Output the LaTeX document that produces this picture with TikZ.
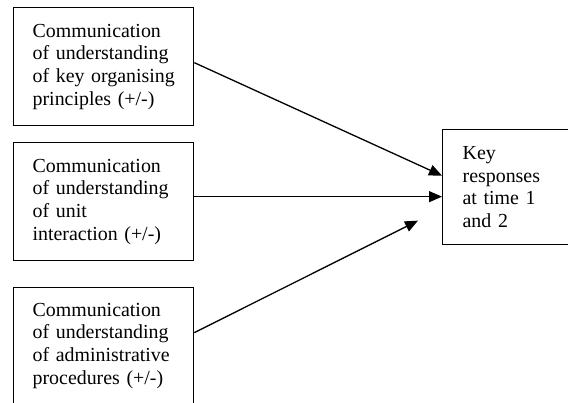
\documentclass[tikz,border=0pt]{standalone}
\usepackage{fontspec}
\setmainfont{Liberation Serif}
\usetikzlibrary{arrows.meta}
\begin{document}
\begin{tikzpicture}[x=1pt,y=-1pt,
  box/.style={draw, line width=1.3pt, inner xsep=19pt, inner ysep=0pt,
    align=left, anchor=north west,
    font=\fontsize{19.9}{22.7}\selectfont},
  arr/.style={line width=1.3pt, -{Triangle[length=13pt,width=11pt]}}]
\useasboundingbox (0,0) rectangle (568,402);
\clip (0,0) rectangle (568,402);
% input boxes on the left
\node[box, minimum width=180pt, minimum height=118pt, text width=142pt] (a) at (13,7)
  {Communication\\of understanding\\\mbox{of key organising}\\principles (+/-)};
\node[box, minimum width=180pt, minimum height=118pt, text width=142pt] (b) at (13,142)
  {Communication\\of understanding\\of unit\\interaction (+/-)};
\node[box, minimum width=180pt, minimum height=116pt, text width=142pt] (c) at (13,287)
  {Communication\\of understanding\\\mbox{of administrative}\\procedures (+/-)};
% outcome box on the right
\node[box, inner xsep=20pt, minimum height=115pt, text width=118pt] (r) at (442,129)
  {Key\\responses\\at time 1\\and 2};
% connectors
\draw[arr] ([yshift=4pt]a.east) -- ([yshift=11.5pt]r.west);
\draw[arr] ([yshift=5pt]b.east) -- ([yshift=-9.5pt]r.west);
\draw[arr] ([yshift=13pt]c.east) -- ([xshift=-24pt,yshift=-33.5pt]r.west);
\end{tikzpicture}
\end{document}
